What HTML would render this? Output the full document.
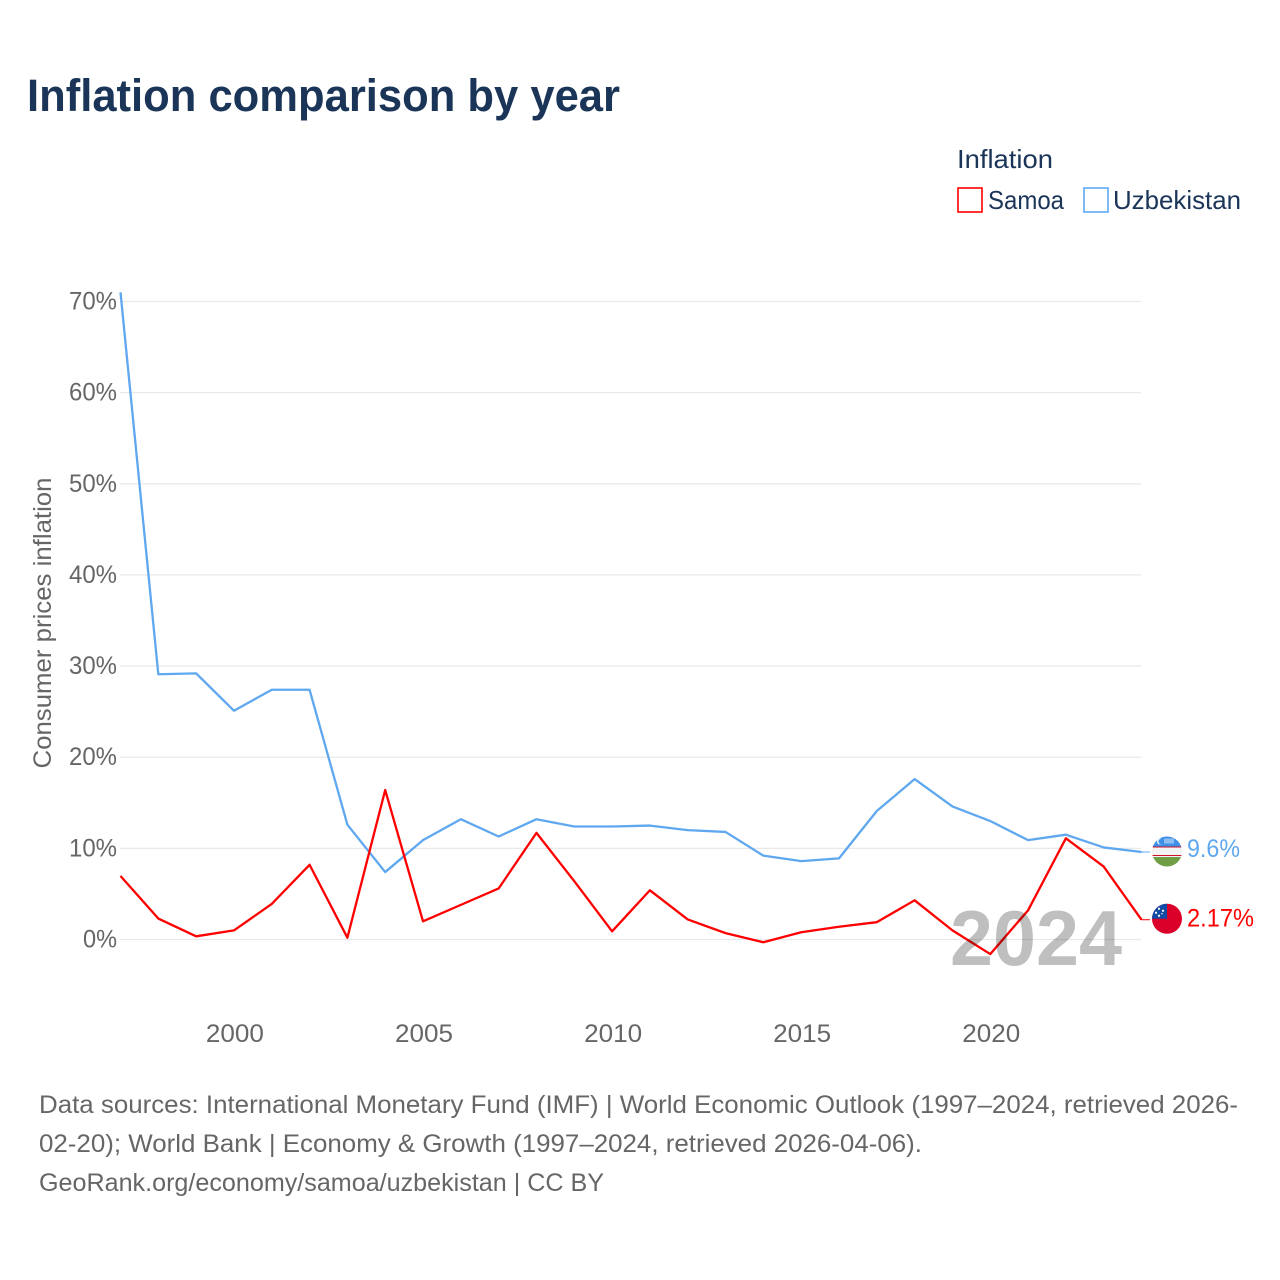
<!DOCTYPE html>
<html lang="en">
<head>
<meta charset="utf-8">
<title>Inflation comparison by year</title>
<style>
html,body{margin:0;padding:0;background:#fff;}
svg{display:block;font-family:"Liberation Sans",Arial,sans-serif;}
</style>
</head>
<body>
<svg id="chart" xmlns="http://www.w3.org/2000/svg" width="1280" height="1280" viewBox="0 0 1280 1280">
  <rect width="1280" height="1280" fill="#fff"/>
  <text x="27" y="111" font-size="45" font-weight="700" fill="#1a3557" textLength="593" lengthAdjust="spacingAndGlyphs">Inflation comparison by year</text>

  <g>
    <text x="957" y="168" font-size="26" fill="#1a3557" textLength="96" lengthAdjust="spacingAndGlyphs">Inflation</text>
    <g>
      <rect x="958" y="188" width="24" height="24" fill="none" stroke="#ff0000" stroke-width="1.6"/>
      <text x="988" y="209" font-size="26" fill="#1a3557" textLength="76" lengthAdjust="spacingAndGlyphs">Samoa</text>
    </g>
    <g>
      <rect x="1084" y="188" width="24" height="24" fill="none" stroke="#5fa8f0" stroke-width="1.6"/>
      <text x="1113" y="209" font-size="26" fill="#1a3557" textLength="128" lengthAdjust="spacingAndGlyphs">Uzbekistan</text>
    </g>
  </g>

  <text transform="translate(51 623) rotate(-90)" text-anchor="middle" font-size="25" fill="#666" textLength="291" lengthAdjust="spacingAndGlyphs">Consumer prices inflation</text>

  <g id="grid"></g>
  <g id="yticks"></g>
  <g id="xticks"></g>
  <g id="series"></g>

  <text x="1036" y="965" text-anchor="middle" font-size="78" font-weight="700" fill="#000" fill-opacity="0.25" textLength="172" lengthAdjust="spacingAndGlyphs">2024</text>

  <defs>
    <clipPath id="flag-clip"><circle cx="0" cy="0" r="15"/></clipPath>
  </defs>

  <g id="end-uzbekistan">
    <g clip-path="url(#flag-clip)">
      <rect x="-15" y="-16" width="30" height="11" fill="#3d8fe8"/>
      <rect x="-15" y="-5" width="30" height="1" fill="#ce1126"/>
      <rect x="-15" y="-4" width="30" height="7.5" fill="#f3f3f3"/>
      <rect x="-15" y="3.5" width="30" height="1" fill="#ce1126"/>
      <rect x="-15" y="4.5" width="30" height="1" fill="#f3f3f3"/>
      <rect x="-15" y="5.5" width="30" height="10" fill="#6f9e45"/>
      <circle cx="-7" cy="-10" r="3" fill="#fff"/>
      <circle cx="-6" cy="-10" r="2.6" fill="#3d8fe8"/>
      <rect x="-3" y="-13" width="10" height="5" fill="#8fbdf0"/>
    </g>
  </g>
  <g id="end-samoa">
    <g clip-path="url(#flag-clip)">
      <rect x="-15" y="-16" width="30" height="32" fill="#da0029"/>
      <rect x="-15" y="-16" width="15" height="16" fill="#124ba3"/>
      <circle cx="-8" cy="-10" r="1.1" fill="#fff"/>
      <circle cx="-4" cy="-8" r="1.1" fill="#fff"/>
      <circle cx="-11" cy="-6" r="1.1" fill="#fff"/>
      <circle cx="-8" cy="-3" r="1.1" fill="#fff"/>
      <circle cx="-5" cy="-5" r="0.7" fill="#fff"/>
    </g>
  </g>

  <g font-size="25" fill="#666">
    <text x="39" y="1113" textLength="1199" lengthAdjust="spacingAndGlyphs">Data sources: International Monetary Fund (IMF) | World Economic Outlook (1997–2024, retrieved 2026-</text>
    <text x="39" y="1152" textLength="883" lengthAdjust="spacingAndGlyphs">02-20); World Bank | Economy &amp; Growth (1997–2024, retrieved 2026-04-06).</text>
    <text x="39" y="1191" textLength="565" lengthAdjust="spacingAndGlyphs">GeoRank.org/economy/samoa/uzbekistan | CC BY</text>
  </g>
</svg>
<script>
const years = [1997,1998,1999,2000,2001,2002,2003,2004,2005,2006,2007,2008,2009,2010,2011,2012,2013,2014,2015,2016,2017,2018,2019,2020,2021,2022,2023,2024];
const samoaValues = [6.97,2.3,0.35,1.0,3.9,8.2,0.2,16.4,2.0,3.8,5.6,11.7,6.4,0.9,5.4,2.2,0.7,-0.3,0.8,1.4,1.9,4.3,1.0,-1.6,3.2,11.1,8.0,2.17];
const uzbekistanValues = [71.0,29.1,29.2,25.1,27.4,27.4,12.6,7.4,10.9,13.2,11.3,13.2,12.4,12.4,12.5,12.0,11.8,9.2,8.6,8.9,14.1,17.6,14.6,13.0,10.9,11.5,10.1,9.6];
const yTickValues = [0,10,20,30,40,50,60,70];
const xTickValues = [2000,2005,2010,2015,2020];

const NS = 'http://www.w3.org/2000/svg';
const x = function (yr) { return 120.5 + (yr - 1997) * (1021 / 27); };
const y = function (v) { return 939.5 - v * 9.114; };
const RED = '#ff0000';
const BLUE = '#5fa8f0';

function make(tag, parent) {
  const el = document.createElementNS(NS, tag);
  parent.appendChild(el);
  return el;
}

const grid = document.getElementById('grid');
const yticks = document.getElementById('yticks');
yTickValues.forEach(function (v) {
  const ln = make('line', grid);
  
  
  ln.setAttribute('x1', 120);
  ln.setAttribute('x2', 1141);
  ln.setAttribute('y1', y(v));
  ln.setAttribute('y2', y(v));
  ln.setAttribute('stroke', '#e9e9e9');
  ln.setAttribute('stroke-width', 1.3);

  const t = make('text', yticks);
  
  
  t.setAttribute('x', 117);
  t.setAttribute('y', y(v) + 8);
  t.setAttribute('text-anchor', 'end');
  t.setAttribute('font-size', 25);
  t.setAttribute('fill', '#666');
  t.setAttribute('textLength', v === 0 ? 34 : 48);
  t.setAttribute('lengthAdjust', 'spacingAndGlyphs');
  t.textContent = v + '%';
});

const xticks = document.getElementById('xticks');
xTickValues.forEach(function (yr) {
  const t = make('text', xticks);
  
  
  t.setAttribute('x', x(yr) + 1);
  t.setAttribute('y', 1042);
  t.setAttribute('text-anchor', 'middle');
  t.setAttribute('font-size', 25);
  t.setAttribute('fill', '#666');
  t.setAttribute('textLength', 58);
  t.setAttribute('lengthAdjust', 'spacingAndGlyphs');
  t.textContent = yr;
});

function pointsFor(values) {
  return values.map(function (v, i) { return x(years[i]).toFixed(2) + ',' + y(v).toFixed(2); }).join(' ');
}

const series = document.getElementById('series');

const uzLine = make('polyline', series);


uzLine.setAttribute('points', pointsFor(uzbekistanValues));
uzLine.setAttribute('fill', 'none');
uzLine.setAttribute('stroke', BLUE);
uzLine.setAttribute('stroke-width', 2.3);
uzLine.setAttribute('stroke-linejoin', 'round');

const saLine = make('polyline', series);


saLine.setAttribute('points', pointsFor(samoaValues));
saLine.setAttribute('fill', 'none');
saLine.setAttribute('stroke', RED);
saLine.setAttribute('stroke-width', 2.3);
saLine.setAttribute('stroke-linejoin', 'round');

const uzLast = uzbekistanValues[uzbekistanValues.length - 1];
const saLast = samoaValues[samoaValues.length - 1];

const uzEnd = document.getElementById('end-uzbekistan');
uzEnd.setAttribute('transform', 'translate(1167 ' + (y(uzLast) - 0.5) + ')');
const saEnd = document.getElementById('end-samoa');
saEnd.setAttribute('transform', 'translate(1167 ' + (y(saLast) - 1) + ')');

const uzConn = make('line', series);


uzConn.setAttribute('x1', x(2024));
uzConn.setAttribute('x2', 1150);
uzConn.setAttribute('y1', y(uzLast));
uzConn.setAttribute('y2', y(uzLast));
uzConn.setAttribute('stroke', BLUE);
uzConn.setAttribute('stroke-width', 1);

const saConn = make('line', series);


saConn.setAttribute('x1', x(2024));
saConn.setAttribute('x2', 1150);
saConn.setAttribute('y1', y(saLast));
saConn.setAttribute('y2', y(saLast));
saConn.setAttribute('stroke', RED);
saConn.setAttribute('stroke-width', 1);

const uzLabel = make('text', uzEnd);


uzLabel.setAttribute('x', 20);
uzLabel.setAttribute('y', 5.5);
uzLabel.setAttribute('font-size', 25);
uzLabel.setAttribute('fill', BLUE);
uzLabel.setAttribute('textLength', 53);
uzLabel.setAttribute('lengthAdjust', 'spacingAndGlyphs');
uzLabel.textContent = uzLast + '%';

const saLabel = make('text', saEnd);


saLabel.setAttribute('x', 20);
saLabel.setAttribute('y', 8);
saLabel.setAttribute('font-size', 25);
saLabel.setAttribute('fill', RED);
saLabel.setAttribute('textLength', 67);
saLabel.setAttribute('lengthAdjust', 'spacingAndGlyphs');
saLabel.textContent = saLast + '%';
</script>
</body>
</html>
